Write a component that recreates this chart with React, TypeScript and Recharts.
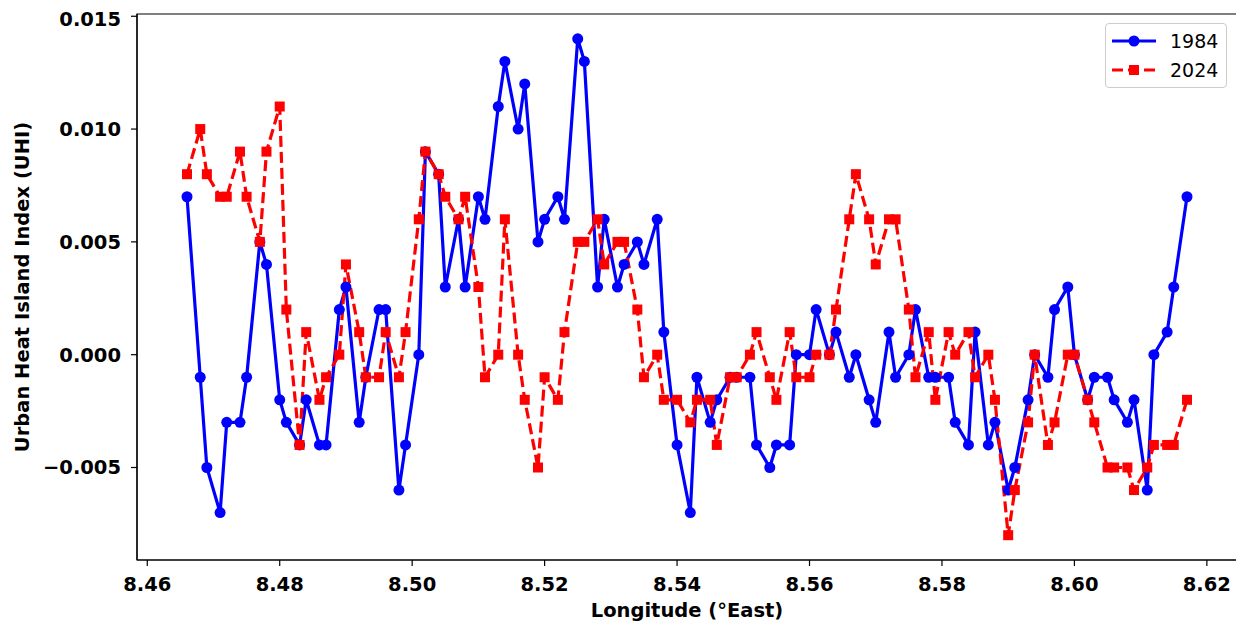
import React from 'react';
import { LineChart, Line, XAxis, YAxis, ReferenceArea, Label } from 'recharts';

// Longitude (°East) sample positions
const longitudes = [
  8.466, 8.468, 8.469, 8.471, 8.472, 8.474, 8.475, 8.477, 8.478, 8.480,
  8.481, 8.483, 8.484, 8.486, 8.487, 8.489, 8.490, 8.492, 8.493, 8.495,
  8.496, 8.498, 8.499, 8.501, 8.502, 8.504, 8.505, 8.507, 8.508, 8.510,
  8.511, 8.513, 8.514, 8.516, 8.517, 8.519, 8.520, 8.522, 8.523, 8.525,
  8.526, 8.528, 8.529, 8.531, 8.532, 8.534, 8.535, 8.537, 8.538, 8.540,
  8.542, 8.543, 8.545, 8.546, 8.548, 8.549, 8.551, 8.552, 8.554, 8.555,
  8.557, 8.558, 8.560, 8.561, 8.563, 8.564, 8.566, 8.567, 8.569, 8.570,
  8.572, 8.573, 8.575, 8.576, 8.578, 8.579, 8.581, 8.582, 8.584, 8.585,
  8.587, 8.588, 8.590, 8.591, 8.593, 8.594, 8.596, 8.597, 8.599, 8.600,
  8.602, 8.603, 8.605, 8.606, 8.608, 8.609, 8.611, 8.612, 8.614, 8.615,
  8.617,
];

// UHI 1984
const uhi1984 = [
  0.007, -0.001, -0.005, -0.007, -0.003, -0.003, -0.001, 0.005, 0.004, -0.002,
  -0.003, -0.004, -0.002, -0.004, -0.004, 0.002, 0.003, -0.003, -0.001, 0.002,
  0.002, -0.006, -0.004, 0.000, 0.009, 0.008, 0.003, 0.006, 0.003, 0.007,
  0.006, 0.011, 0.013, 0.010, 0.012, 0.005, 0.006, 0.007, 0.006, 0.014,
  0.013, 0.003, 0.006, 0.003, 0.004, 0.005, 0.004, 0.006, 0.001, -0.004,
  -0.007, -0.001, -0.003, -0.002, -0.001, -0.001, -0.001, -0.004, -0.005, -0.004,
  -0.004, 0.000, 0.000, 0.002, 0.000, 0.001, -0.001, 0.000, -0.002, -0.003,
  0.001, -0.001, 0.000, 0.002, -0.001, -0.001, -0.001, -0.003, -0.004, 0.001,
  -0.004, -0.003, -0.006, -0.005, -0.002, 0.000, -0.001, 0.002, 0.003, 0.000,
  -0.002, -0.001, -0.001, -0.002, -0.003, -0.002, -0.006, 0.000, 0.001, 0.003,
  0.007,
];

// UHI 2024
const uhi2024 = [
  0.008, 0.010, 0.008, 0.007, 0.007, 0.009, 0.007, 0.005, 0.009, 0.011,
  0.002, -0.004, 0.001, -0.002, -0.001, 0.000, 0.004, 0.001, -0.001, -0.001,
  0.001, -0.001, 0.001, 0.006, 0.009, 0.008, 0.007, 0.006, 0.007, 0.003,
  -0.001, 0.000, 0.006, 0.000, -0.002, -0.005, -0.001, -0.002, 0.001, 0.005,
  0.005, 0.006, 0.004, 0.005, 0.005, 0.002, -0.001, 0.000, -0.002, -0.002,
  -0.003, -0.002, -0.002, -0.004, -0.001, -0.001, 0.000, 0.001, -0.001, -0.002,
  0.001, -0.001, -0.001, 0.000, 0.000, 0.002, 0.006, 0.008, 0.006, 0.004,
  0.006, 0.006, 0.002, -0.001, 0.001, -0.002, 0.001, 0.000, 0.001, -0.001,
  0.000, -0.002, -0.008, -0.006, -0.003, 0.000, -0.004, -0.003, 0.000, 0.000,
  -0.002, -0.003, -0.005, -0.005, -0.005, -0.006, -0.005, -0.004, -0.004, -0.004,
  -0.002,
];

const seriesNames = ['1984', '2024'];
const xTicks = [8.46, 8.48, 8.5, 8.52, 8.54, 8.56, 8.58, 8.6, 8.62];
const yTicks = [-0.005, 0, 0.005, 0.01, 0.015];
const xDomain: [number, number] = [8.45845, 8.62455];
const yDomain: [number, number] = [-0.0091, 0.0151];

const data = longitudes.map((lon, i) => ({
  lon,
  y1984: uhi1984[i],
  y2024: uhi2024[i],
}));

const FONT = '"DejaVu Sans", sans-serif';
const BLUE = '#0000ff';
const RED = '#ff0000';

const fmtY = (v: number) => (v < 0 ? '\u2212' : '') + Math.abs(v).toFixed(3);
const fmtX = (v: number) => v.toFixed(2);

const tickStyle = { fill: '#000', fontSize: 19.5, fontWeight: 700, fontFamily: FONT };

const SQ = 10;
const SquareDot = (props: any) => {
  const { cx, cy, index } = props;
  if (cx == null || cy == null) return <g key={`sq-${index}`} />;
  return <rect key={`sq-${index}`} x={cx - SQ / 2} y={cy - SQ / 2} width={SQ} height={SQ} fill={RED} />;
};

const Legend = () => (
  <div
    style={{
      position: 'absolute',
      left: 1097,
      top: 15,
      width: 120,
      height: 63,
      border: '1px solid #cccccc',
      borderRadius: 4,
      background: 'rgba(255,255,255,0.8)',
      fontFamily: FONT,
      fontSize: 19,
      color: '#000',
    }}
  >
    {seriesNames.map((name, i) => (
      <div
        key={name}
        style={{ position: 'absolute', left: 0, top: i === 0 ? 4 : 33, height: 26, width: 120, display: 'flex', alignItems: 'center' }}
      >
        <svg width={60} height={26} style={{ display: 'block' }}>
          {i === 0 ? (
            <>
              <line x1={6} y1={13} x2={50} y2={13} stroke={BLUE} strokeWidth={3.2} />
              <circle cx={28} cy={13} r={5.5} fill={BLUE} />
            </>
          ) : (
            <>
              <line x1={6} y1={13} x2={50} y2={13} stroke={RED} strokeWidth={3.2} strokeDasharray="11 5" />
              <rect x={23} y={8} width={SQ} height={SQ} fill={RED} />
            </>
          )}
        </svg>
        <span style={{ marginLeft: 4, lineHeight: '26px' }}>{name}</span>
      </div>
    ))}
  </div>
);

export default function App() {
  return (
    <div style={{ position: 'relative', width: 1236, height: 620 }}>
      <LineChart
        width={1236}
        height={620}
        data={data}
        margin={{ top: 6, right: 7, bottom: 0, left: 0 }}
      >
        <XAxis
          dataKey="lon"
          type="number"
          domain={xDomain}
          ticks={xTicks}
          tickFormatter={fmtX}
          allowDataOverflow
          height={68}
          tick={tickStyle}
          tickSize={6}
          tickMargin={11}
          tickLine={{ stroke: '#000', strokeWidth: 1.2 }}
          axisLine={{ stroke: '#000', strokeWidth: 1.2 }}
        >
          <Label
            content={() => (
              <text x={679} y={609} textAnchor="middle" fontFamily={FONT} fontSize={19.5} fontWeight={700} fill="#000">
                Longitude (°East)
              </text>
            )}
          />
        </XAxis>
        <YAxis
          type="number"
          domain={yDomain}
          ticks={yTicks}
          tickFormatter={fmtY}
          allowDataOverflow
          width={129}
          tick={tickStyle}
          tickSize={6}
          tickMargin={10}
          tickLine={{ stroke: '#000', strokeWidth: 1.2 }}
          axisLine={{ stroke: '#000', strokeWidth: 1.2 }}
        >
          <Label
            content={() => (
              <text
                x={14}
                y={279}
                transform="rotate(-90 14 279)"
                textAnchor="middle"
                dominantBaseline="central"
                fontFamily={FONT}
                fontSize={19.5}
                fontWeight={700}
                fill="#000"
              >
                Urban Heat Island Index (UHI)
              </text>
            )}
          />
        </YAxis>
        <ReferenceArea
          x1={xDomain[0]}
          x2={xDomain[1]}
          y1={yDomain[0]}
          y2={yDomain[1]}
          fill="none"
          stroke="#000"
          strokeWidth={1.2}
          ifOverflow="visible"
        />
        <Line
          type="linear"
          dataKey="y1984"
          name={seriesNames[0]}
          stroke={BLUE}
          strokeWidth={3.2}
          dot={{ r: 5.5, fill: BLUE, stroke: BLUE, strokeWidth: 0 }}
          activeDot={false}
          isAnimationActive={false}
        />
        <Line
          type="linear"
          dataKey="y2024"
          name={seriesNames[1]}
          stroke={RED}
          strokeWidth={3.2}
          strokeDasharray="11 5"
          dot={(p: any) => <SquareDot {...p} key={`sq-${p.index}`} />}
          activeDot={false}
          isAnimationActive={false}
        />
      </LineChart>
      <Legend />
    </div>
  );
}
